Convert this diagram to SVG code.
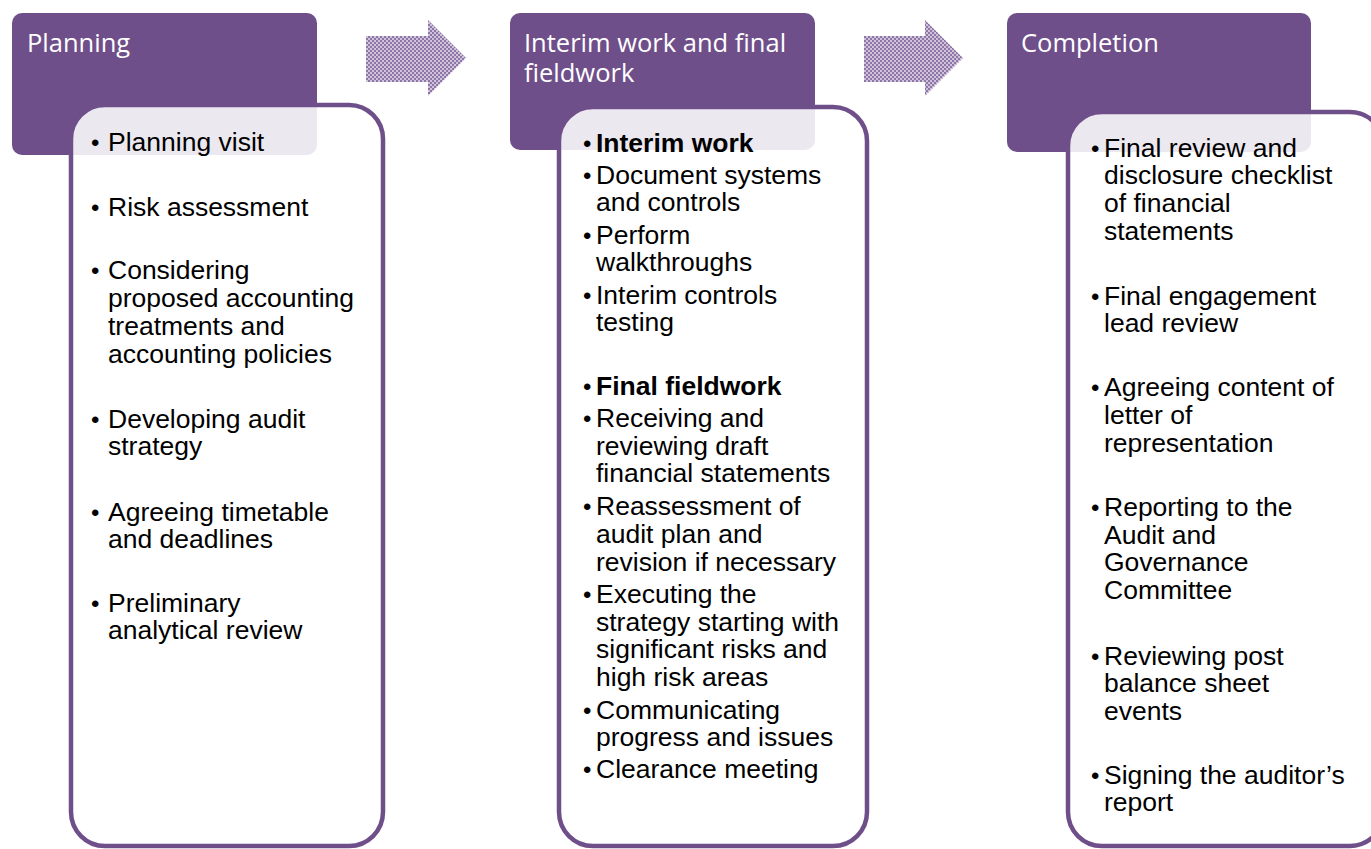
<svg xmlns="http://www.w3.org/2000/svg" width="1371" height="849" viewBox="0 0 1371 849">
<style>
.hdr{fill:#6f4f8a}
.box{fill:#ffffff;fill-opacity:0.87;stroke:#6f4f8a;stroke-width:4.5}
.ht{font-family:"Open Sans",sans-serif;font-size:25.5px;fill:#ffffff}
.bt{font-family:"Liberation Sans",Arial,sans-serif;font-size:26.5px;fill:#000000}
.bu{font-size:24px}
.b{font-weight:bold}
.arrow{fill:url(#dots)}
</style>
<defs>
<pattern id="dots" width="4" height="4" patternUnits="userSpaceOnUse">
<rect width="4" height="4" fill="#cfc3da"/>
<rect x="0" y="0" width="2" height="2" fill="#8f75a8"/>
<rect x="2" y="2" width="2" height="2" fill="#8f75a8"/>
</pattern>
</defs>
<g id="connectors">
<path class="arrow" d="M366,36 H428 V20 L466,58 L428,96 V82 H366 Z"/>
<path class="arrow" d="M864,36 H925 V20 L963,58 L925,96 V82 H864 Z"/>
</g>
<g id="planning">
<rect class="hdr" x="12" y="13" width="305" height="142" rx="10"/>
<text class="ht" x="27" y="52">Planning</text>
<rect class="box" x="71" y="105" width="312" height="741" rx="34"/>
<g class="bt">
<text x="91" y="151"><tspan class="bu">•</tspan><tspan x="108">Planning visit</tspan></text>
<text x="91" y="216"><tspan class="bu">•</tspan><tspan x="108">Risk assessment</tspan></text>
<text x="91" y="279"><tspan class="bu">•</tspan><tspan x="108">Considering</tspan><tspan x="108" dy="28">proposed accounting</tspan><tspan x="108" dy="28">treatments and</tspan><tspan x="108" dy="28">accounting policies</tspan></text>
<text x="91" y="428"><tspan class="bu">•</tspan><tspan x="108">Developing audit</tspan><tspan x="108" dy="27">strategy</tspan></text>
<text x="91" y="521"><tspan class="bu">•</tspan><tspan x="108">Agreeing timetable</tspan><tspan x="108" dy="27">and deadlines</tspan></text>
<text x="91" y="612"><tspan class="bu">•</tspan><tspan x="108">Preliminary</tspan><tspan x="108" dy="27">analytical review</tspan></text>
</g>
</g>
<g id="interim">
<rect class="hdr" x="510" y="13" width="305" height="137" rx="10"/>
<text class="ht" x="524" y="52">Interim work and final<tspan x="524" dy="30">fieldwork</tspan></text>
<rect class="box" x="559" y="107" width="308" height="739" rx="34"/>
<g class="bt">
<text x="583" y="152"><tspan class="bu">•</tspan><tspan class="b" x="596">Interim work</tspan></text>
<text x="583" y="184"><tspan class="bu">•</tspan><tspan x="596">Document systems</tspan><tspan x="596" dy="27">and controls</tspan></text>
<text x="583" y="244"><tspan class="bu">•</tspan><tspan x="596">Perform</tspan><tspan x="596" dy="27">walkthroughs</tspan></text>
<text x="583" y="304"><tspan class="bu">•</tspan><tspan x="596">Interim controls</tspan><tspan x="596" dy="27">testing</tspan></text>
<text x="583" y="395"><tspan class="bu">•</tspan><tspan class="b" x="596">Final fieldwork</tspan></text>
<text x="583" y="427"><tspan class="bu">•</tspan><tspan x="596">Receiving and</tspan><tspan x="596" dy="28">reviewing draft</tspan><tspan x="596" dy="27">financial statements</tspan></text>
<text x="583" y="515"><tspan class="bu">•</tspan><tspan x="596">Reassessment of</tspan><tspan x="596" dy="28">audit plan and</tspan><tspan x="596" dy="28">revision if necessary</tspan></text>
<text x="583" y="603"><tspan class="bu">•</tspan><tspan x="596">Executing the</tspan><tspan x="596" dy="28">strategy starting with</tspan><tspan x="596" dy="27">significant risks and</tspan><tspan x="596" dy="28">high risk areas</tspan></text>
<text x="583" y="719"><tspan class="bu">•</tspan><tspan x="596">Communicating</tspan><tspan x="596" dy="27">progress and issues</tspan></text>
<text x="583" y="778"><tspan class="bu">•</tspan><tspan x="596">Clearance meeting</tspan></text>
</g>
</g>
<g id="completion">
<rect class="hdr" x="1007" y="13" width="304" height="139" rx="10"/>
<text class="ht" x="1021" y="52">Completion</text>
<rect class="box" x="1068" y="112" width="316" height="734" rx="34"/>
<g class="bt">
<text x="1091" y="157"><tspan class="bu">•</tspan><tspan x="1104">Final review and</tspan><tspan x="1104" dy="27">disclosure checklist</tspan><tspan x="1104" dy="28">of financial</tspan><tspan x="1104" dy="28">statements</tspan></text>
<text x="1091" y="305"><tspan class="bu">•</tspan><tspan x="1104">Final engagement</tspan><tspan x="1104" dy="27">lead review</tspan></text>
<text x="1091" y="396"><tspan class="bu">•</tspan><tspan x="1104">Agreeing content of</tspan><tspan x="1104" dy="28">letter of</tspan><tspan x="1104" dy="28">representation</tspan></text>
<text x="1091" y="516"><tspan class="bu">•</tspan><tspan x="1104">Reporting to the</tspan><tspan x="1104" dy="28">Audit and</tspan><tspan x="1104" dy="27">Governance</tspan><tspan x="1104" dy="28">Committee</tspan></text>
<text x="1091" y="665"><tspan class="bu">•</tspan><tspan x="1104">Reviewing post</tspan><tspan x="1104" dy="27">balance sheet</tspan><tspan x="1104" dy="28">events</tspan></text>
<text x="1091" y="784"><tspan class="bu">•</tspan><tspan x="1104">Signing the auditor’s</tspan><tspan x="1104" dy="27">report</tspan></text>
</g>
</g>
</svg>
